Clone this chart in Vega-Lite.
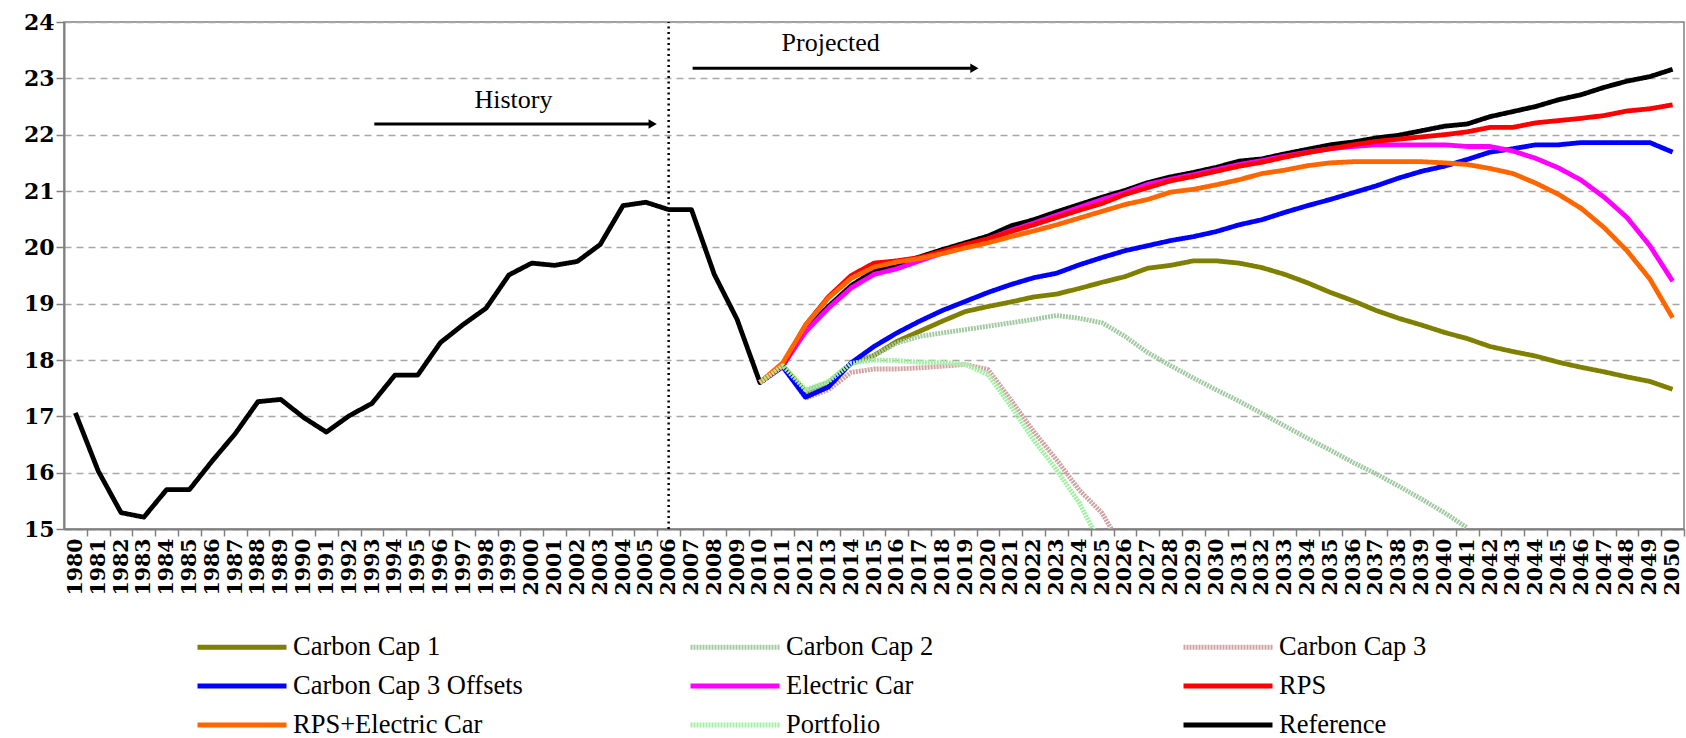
{
  "$schema": "https://vega.github.io/schema/vega-lite/v6.json",
  "width": 1620,
  "height": 507,
  "autosize": {"type": "none"},
  "padding": {"left": 64, "top": 22, "right": 2, "bottom": 209},
  "background": "white",
  "config": {
    "view": {"stroke": "#808080", "strokeWidth": 1.5},
    "axisX": {"labelOverlap": false, "labelSeparation": 0},
    "legend": {
      "orient": "none", "direction": "horizontal", "legendX": 131, "legendY": 612, "columns": 3, "gridAlign": "all",
      "columnPadding": 165, "rowPadding": 12, "symbolType": "stroke", "symbolSize": 7921,
      "symbolStrokeWidth": 5, "labelFont": "Liberation Serif", "labelFontSize": 26.5, "labelColor": "black",
      "labelOffset": 4, "clipHeight": 26, "title": null, "labelLimit": 400, "padding": 0
    }
  },
  "datasets": {
    "ts": [
      {"year":1980,"Reference":17.06},{"year":1981,"Reference":16.03},{"year":1982,"Reference":15.29},{"year":1983,"Reference":15.21},
      {"year":1984,"Reference":15.70},{"year":1985,"Reference":15.70},{"year":1986,"Reference":16.21},{"year":1987,"Reference":16.69},
      {"year":1988,"Reference":17.26},{"year":1989,"Reference":17.30},{"year":1990,"Reference":16.98},{"year":1991,"Reference":16.72},
      {"year":1992,"Reference":17.01},{"year":1993,"Reference":17.23},{"year":1994,"Reference":17.73},{"year":1995,"Reference":17.73},
      {"year":1996,"Reference":18.31},{"year":1997,"Reference":18.63},{"year":1998,"Reference":18.92},{"year":1999,"Reference":19.51},
      {"year":2000,"Reference":19.72},{"year":2001,"Reference":19.68},{"year":2002,"Reference":19.75},{"year":2003,"Reference":20.05},
      {"year":2004,"Reference":20.74},{"year":2005,"Reference":20.80},{"year":2006,"Reference":20.67},{"year":2007,"Reference":20.67},
      {"year":2008,"Reference":19.52},{"year":2009,"Reference":18.72},
      {"year":2010,"Carbon Cap 1":17.60,"Carbon Cap 2":17.60,"Carbon Cap 3":17.60,"Carbon Cap 3 Offsets":17.60,"Electric Car":17.60,"RPS":17.60,"RPS+Electric Car":17.60,"Portfolio":17.60,"Reference":17.60},
      {"year":2011,"Carbon Cap 1":17.90,"Carbon Cap 2":17.90,"Carbon Cap 3":17.90,"Carbon Cap 3 Offsets":17.88,"Electric Car":17.90,"RPS":17.90,"RPS+Electric Car":17.95,"Portfolio":17.90,"Reference":17.90},
      {"year":2012,"Carbon Cap 1":17.44,"Carbon Cap 2":17.44,"Carbon Cap 3":17.32,"Carbon Cap 3 Offsets":17.34,"Electric Car":18.50,"RPS":18.62,"RPS+Electric Car":18.62,"Portfolio":17.47,"Reference":18.54},
      {"year":2013,"Carbon Cap 1":17.60,"Carbon Cap 2":17.60,"Carbon Cap 3":17.47,"Carbon Cap 3 Offsets":17.52,"Electric Car":18.92,"RPS":19.12,"RPS+Electric Car":19.10,"Portfolio":17.62,"Reference":18.95},
      {"year":2014,"Carbon Cap 1":17.94,"Carbon Cap 2":17.94,"Carbon Cap 3":17.78,"Carbon Cap 3 Offsets":17.95,"Electric Car":19.28,"RPS":19.50,"RPS+Electric Car":19.45,"Portfolio":17.94,"Reference":19.32},
      {"year":2015,"Carbon Cap 1":18.08,"Carbon Cap 2":18.08,"Carbon Cap 3":17.84,"Carbon Cap 3 Offsets":18.24,"Electric Car":19.52,"RPS":19.72,"RPS+Electric Car":19.65,"Portfolio":18.00,"Reference":19.58},
      {"year":2016,"Carbon Cap 1":18.33,"Carbon Cap 2":18.30,"Carbon Cap 3":17.84,"Carbon Cap 3 Offsets":18.48,"Electric Car":19.62,"RPS":19.76,"RPS+Electric Car":19.74,"Portfolio":17.99,"Reference":19.69},
      {"year":2017,"Carbon Cap 1":18.51,"Carbon Cap 2":18.42,"Carbon Cap 3":17.86,"Carbon Cap 3 Offsets":18.69,"Electric Car":19.76,"RPS":19.82,"RPS+Electric Car":19.80,"Portfolio":17.96,"Reference":19.83},
      {"year":2018,"Carbon Cap 1":18.69,"Carbon Cap 2":18.48,"Carbon Cap 3":17.89,"Carbon Cap 3 Offsets":18.88,"Electric Car":19.90,"RPS":19.93,"RPS+Electric Car":19.89,"Portfolio":17.96,"Reference":19.96},
      {"year":2019,"Carbon Cap 1":18.86,"Carbon Cap 2":18.54,"Carbon Cap 3":17.92,"Carbon Cap 3 Offsets":19.04,"Electric Car":20.03,"RPS":20.05,"RPS+Electric Car":19.99,"Portfolio":17.92,"Reference":20.08},
      {"year":2020,"Carbon Cap 1":18.95,"Carbon Cap 2":18.60,"Carbon Cap 3":17.83,"Carbon Cap 3 Offsets":19.20,"Electric Car":20.15,"RPS":20.15,"RPS+Electric Car":20.08,"Portfolio":17.74,"Reference":20.20},
      {"year":2021,"Carbon Cap 1":19.03,"Carbon Cap 2":18.66,"Carbon Cap 3":17.29,"Carbon Cap 3 Offsets":19.34,"Electric Car":20.30,"RPS":20.28,"RPS+Electric Car":20.19,"Portfolio":17.18,"Reference":20.38},
      {"year":2022,"Carbon Cap 1":19.12,"Carbon Cap 2":18.72,"Carbon Cap 3":16.73,"Carbon Cap 3 Offsets":19.46,"Electric Car":20.43,"RPS":20.40,"RPS+Electric Car":20.29,"Portfolio":16.58,"Reference":20.49},
      {"year":2023,"Carbon Cap 1":19.17,"Carbon Cap 2":18.79,"Carbon Cap 3":16.23,"Carbon Cap 3 Offsets":19.54,"Electric Car":20.57,"RPS":20.53,"RPS+Electric Car":20.40,"Portfolio":16.05,"Reference":20.63},
      {"year":2024,"Carbon Cap 1":19.27,"Carbon Cap 2":18.74,"Carbon Cap 3":15.69,"Carbon Cap 3 Offsets":19.69,"Electric Car":20.71,"RPS":20.66,"RPS+Electric Car":20.52,"Portfolio":15.46,"Reference":20.76},
      {"year":2025,"Carbon Cap 1":19.38,"Carbon Cap 2":18.66,"Carbon Cap 3":15.28,"Carbon Cap 3 Offsets":19.82,"Electric Car":20.85,"RPS":20.78,"RPS+Electric Car":20.64,"Portfolio":14.69,"Reference":20.89},
      {"year":2026,"Carbon Cap 1":19.48,"Carbon Cap 2":18.42,"Carbon Cap 3":14.58,"Carbon Cap 3 Offsets":19.94,"Electric Car":20.97,"RPS":20.94,"RPS+Electric Car":20.76,"Reference":21.01},
      {"year":2027,"Carbon Cap 1":19.63,"Carbon Cap 2":18.13,"Carbon Cap 3 Offsets":20.03,"Electric Car":21.12,"RPS":21.06,"RPS+Electric Car":20.85,"Reference":21.15},
      {"year":2028,"Carbon Cap 1":19.68,"Carbon Cap 2":17.90,"Carbon Cap 3 Offsets":20.12,"Electric Car":21.21,"RPS":21.18,"RPS+Electric Car":20.98,"Reference":21.25},
      {"year":2029,"Carbon Cap 1":19.76,"Carbon Cap 2":17.68,"Carbon Cap 3 Offsets":20.19,"Electric Car":21.29,"RPS":21.26,"RPS+Electric Car":21.03,"Reference":21.33},
      {"year":2030,"Carbon Cap 1":19.76,"Carbon Cap 2":17.47,"Carbon Cap 3 Offsets":20.28,"Electric Car":21.38,"RPS":21.35,"RPS+Electric Car":21.11,"Reference":21.42},
      {"year":2031,"Carbon Cap 1":19.72,"Carbon Cap 2":17.27,"Carbon Cap 3 Offsets":20.40,"Electric Car":21.47,"RPS":21.44,"RPS+Electric Car":21.20,"Reference":21.53},
      {"year":2032,"Carbon Cap 1":19.64,"Carbon Cap 2":17.05,"Carbon Cap 3 Offsets":20.49,"Electric Car":21.54,"RPS":21.51,"RPS+Electric Car":21.31,"Reference":21.57},
      {"year":2033,"Carbon Cap 1":19.52,"Carbon Cap 2":16.83,"Carbon Cap 3 Offsets":20.62,"Electric Car":21.62,"RPS":21.60,"RPS+Electric Car":21.37,"Reference":21.66},
      {"year":2034,"Carbon Cap 1":19.37,"Carbon Cap 2":16.61,"Carbon Cap 3 Offsets":20.74,"Electric Car":21.69,"RPS":21.68,"RPS+Electric Car":21.45,"Reference":21.74},
      {"year":2035,"Carbon Cap 1":19.20,"Carbon Cap 2":16.40,"Carbon Cap 3 Offsets":20.85,"Electric Car":21.75,"RPS":21.75,"RPS+Electric Car":21.50,"Reference":21.82},
      {"year":2036,"Carbon Cap 1":19.05,"Carbon Cap 2":16.18,"Carbon Cap 3 Offsets":20.97,"Electric Car":21.79,"RPS":21.82,"RPS+Electric Car":21.52,"Reference":21.87},
      {"year":2037,"Carbon Cap 1":18.88,"Carbon Cap 2":15.98,"Carbon Cap 3 Offsets":21.09,"Electric Car":21.82,"RPS":21.88,"RPS+Electric Car":21.52,"Reference":21.94},
      {"year":2038,"Carbon Cap 1":18.74,"Carbon Cap 2":15.76,"Carbon Cap 3 Offsets":21.23,"Electric Car":21.82,"RPS":21.92,"RPS+Electric Car":21.52,"Reference":21.99},
      {"year":2039,"Carbon Cap 1":18.62,"Carbon Cap 2":15.53,"Carbon Cap 3 Offsets":21.35,"Electric Car":21.82,"RPS":21.96,"RPS+Electric Car":21.52,"Reference":22.07},
      {"year":2040,"Carbon Cap 1":18.49,"Carbon Cap 2":15.29,"Carbon Cap 3 Offsets":21.44,"Electric Car":21.82,"RPS":22.00,"RPS+Electric Car":21.50,"Reference":22.15},
      {"year":2041,"Carbon Cap 1":18.38,"Carbon Cap 2":15.02,"Carbon Cap 3 Offsets":21.56,"Electric Car":21.79,"RPS":22.05,"RPS+Electric Car":21.47,"Reference":22.19},
      {"year":2042,"Carbon Cap 1":18.24,"Carbon Cap 3 Offsets":21.69,"Electric Car":21.79,"RPS":22.13,"RPS+Electric Car":21.40,"Reference":22.32},
      {"year":2043,"Carbon Cap 1":18.15,"Carbon Cap 3 Offsets":21.75,"Electric Car":21.71,"RPS":22.13,"RPS+Electric Car":21.31,"Reference":22.41},
      {"year":2044,"Carbon Cap 1":18.07,"Carbon Cap 3 Offsets":21.82,"Electric Car":21.58,"RPS":22.21,"RPS+Electric Car":21.14,"Reference":22.50},
      {"year":2045,"Carbon Cap 1":17.96,"Carbon Cap 3 Offsets":21.82,"Electric Car":21.41,"RPS":22.25,"RPS+Electric Car":20.94,"Reference":22.62},
      {"year":2046,"Carbon Cap 1":17.87,"Carbon Cap 3 Offsets":21.86,"Electric Car":21.19,"RPS":22.29,"RPS+Electric Car":20.69,"Reference":22.71},
      {"year":2047,"Carbon Cap 1":17.79,"Carbon Cap 3 Offsets":21.86,"Electric Car":20.89,"RPS":22.34,"RPS+Electric Car":20.35,"Reference":22.84},
      {"year":2048,"Carbon Cap 1":17.70,"Carbon Cap 3 Offsets":21.86,"Electric Car":20.53,"RPS":22.42,"RPS+Electric Car":19.94,"Reference":22.95},
      {"year":2049,"Carbon Cap 1":17.62,"Carbon Cap 3 Offsets":21.86,"Electric Car":20.03,"RPS":22.46,"RPS+Electric Car":19.44,"Reference":23.03},
      {"year":2050,"Carbon Cap 1":17.48,"Carbon Cap 3 Offsets":21.69,"Electric Car":19.40,"RPS":22.53,"RPS+Electric Car":18.75,"Reference":23.16}
    ],
    "arrows": [
      {"year": 1993.1, "year2": 2005.3, "value": 22.19},
      {"year": 2007.05, "year2": 2019.4, "value": 23.18}
    ],
    "heads": [
      {"year": 2005.3, "value": 22.19},
      {"year": 2019.4, "value": 23.18}
    ],
    "labels": [
      {"label": "History", "year": 1999.2, "value": 22.62},
      {"label": "Projected", "year": 2013.1, "value": 23.62}
    ],
    "divider": [{"year": 2006, "value": 15, "value2": 24}]
  },
  "encoding": {
    "x": {"field": "year", "type": "quantitative",
      "scale": {"domain": [1979.5, 2050.5], "nice": false, "zero": false},
      "axis": {"title": null, "values": [1980,1981,1982,1983,1984,1985,1986,1987,1988,1989,1990,1991,1992,1993,1994,1995,1996,1997,1998,1999,2000,2001,2002,2003,2004,2005,2006,2007,2008,2009,2010,2011,2012,2013,2014,2015,2016,2017,2018,2019,2020,2021,2022,2023,2024,2025,2026,2027,2028,2029,2030,2031,2032,2033,2034,2035,2036,2037,2038,2039,2040,2041,2042,2043,2044,2045,2046,2047,2048,2049,2050],
        "format": "d", "labelAngle": 270, "labelFont": "DejaVu Serif", "labelFontWeight": "bold", "labelFontSize": 20.5,
        "labelColor": "black", "labelOverlap": false, "labelFlush": false, "tickOffset": 11.41, "labelOffset": -11.41,
        "tickSize": 7, "tickColor": "#808080", "tickWidth": 1.5, "domainColor": "#808080", "domainWidth": 2, "labelPadding": 2, "grid": false}},
    "y": {"field": "value", "type": "quantitative",
      "scale": {"domain": [15, 24], "nice": false, "zero": false},
      "axis": {"title": null, "values": [15,16,17,18,19,20,21,22,23,24], "format": "d", "grid": true, "gridDash": [7,5], "gridColor": "#a8a8a8", "gridWidth": 1.5,
        "labelFont": "DejaVu Serif", "labelFontWeight": "bold", "labelFontSize": 22, "labelColor": "black",
        "tickSize": 8, "tickColor": "#808080", "tickWidth": 1.5, "domainColor": "#808080", "domainWidth": 2, "labelPadding": 2}}
  },
  "layer": [
    {
      "data": {"name": "ts"},
      "transform": [
        {"fold": ["Carbon Cap 1","Carbon Cap 2","Carbon Cap 3","Carbon Cap 3 Offsets","Electric Car","RPS","RPS+Electric Car","Portfolio","Reference"], "as": ["series","value"]},
        {"filter": "isValid(datum.value)"}
      ],
      "mark": {"type": "line", "clip": true, "strokeWidth": 4.8, "strokeJoin": "round", "strokeCap": "butt"},
      "encoding": {
        "color": {"field": "series", "type": "nominal",
          "scale": {"domain": ["Carbon Cap 1","Carbon Cap 2","Carbon Cap 3","Carbon Cap 3 Offsets","Electric Car","RPS","RPS+Electric Car","Portfolio","Reference"],
            "range": ["#808000","#a2caa2","#d0a2a2","#0000ff","#ff00ff","#ff0000","#ff6600","#a2f0a2","#000000"]}},
        "strokeDash": {"field": "series", "type": "nominal",
          "scale": {"domain": ["Carbon Cap 1","Carbon Cap 2","Carbon Cap 3","Carbon Cap 3 Offsets","Electric Car","RPS","RPS+Electric Car","Portfolio","Reference"],
            "range": [[1,0],[2,1],[2,1],[1,0],[1,0],[1,0],[1,0],[2,1],[1,0]]}}
      }
    },
    {
      "data": {"name": "divider"},
      "mark": {"type": "rule", "color": "black", "strokeWidth": 2.5, "strokeDash": [2, 3.5]},
      "encoding": {"y2": {"field": "value2"}}
    },
    {
      "data": {"name": "arrows"},
      "mark": {"type": "rule", "color": "black", "strokeWidth": 3},
      "encoding": {"x2": {"field": "year2"}}
    },
    {
      "data": {"name": "heads"},
      "mark": {"type": "point", "shape": "triangle-right", "filled": true, "color": "black", "size": 90, "opacity": 1},
      "encoding": {}
    },
    {
      "data": {"name": "labels"},
      "mark": {"type": "text", "font": "Liberation Serif", "fontSize": 26, "color": "black", "align": "center", "baseline": "middle"},
      "encoding": {"text": {"field": "label"}}
    }
  ]
}
